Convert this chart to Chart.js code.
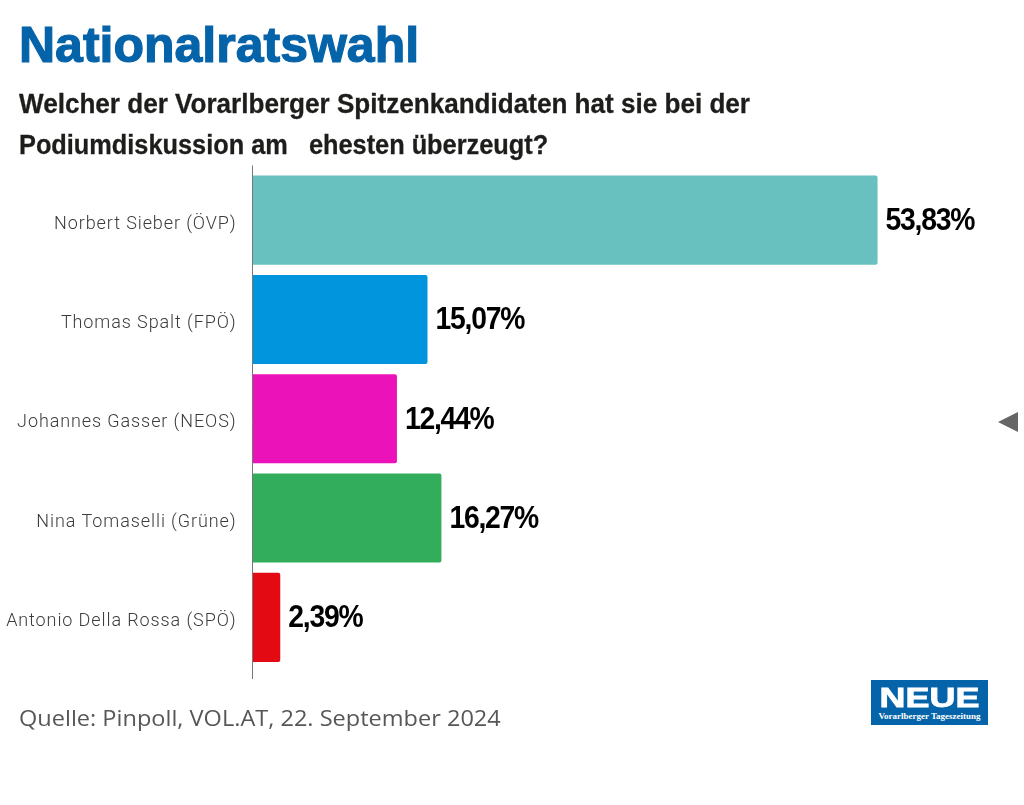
<!DOCTYPE html>
<html lang="de">
<head>
  <meta charset="UTF-8">
  <title>Nationalratswahl</title>
  <script src="https://cdn.jsdelivr.net/npm/chart.js"></script>
  <style>
    html, body { margin: 0; padding: 0; background: #fff; overflow: hidden; }
    #page { position: relative; width: 1024px; height: 805px; }
    #chart { position: absolute; left: 0; top: 0; }
    .txt { position: absolute; white-space: pre; transform-origin: left top; }
    #title { left: 19px; top: 15px; font: bold 50px/60px "Liberation Sans", sans-serif; color: #0563a9; -webkit-text-stroke: 1.2px #0563a9; }
    .sub { left: 19px; font: bold 27px/32px "Liberation Sans", sans-serif; color: #1d1d1b; -webkit-text-stroke: 0.3px #1d1d1b; }
    #source { left: 19px; top: 703px; font: 22px/28px "Open Sans", sans-serif; color: #575756; transform: scaleX(1.07); }
    #arrow { position: absolute; left: 998px; top: 412px; width: 0; height: 0;
      border-top: 10px solid transparent; border-bottom: 10px solid transparent; border-right: 20px solid #666; }
    #logo { position: absolute; left: 871px; top: 680px; width: 117px; height: 45px; background: #0563a9; color: #fff; text-align: center; }
    #logo b { display: block; font: bold 27px/27px "Liberation Sans", sans-serif; margin-top: 5px; transform: scaleX(1.33); -webkit-text-stroke: 0.8px #fff; }
    #logo span { display: block; font: bold 9px/11px "Liberation Serif", serif; margin-top: -1px; }
  </style>
</head>
<body>
<div id="page">
  <canvas id="chart" width="1024" height="805"></canvas>
  <div class="txt" id="title">Nationalratswahl</div>
  <div class="txt sub" style="top:88px; transform:scaleX(0.966)">Welcher der Vorarlberger Spitzenkandidaten hat sie bei der</div>
  <div class="txt sub" style="top:129px; transform:scaleX(0.938)">Podiumdiskussion am   ehesten überzeugt?</div>
  <div class="txt" id="source">Quelle: Pinpoll, VOL.AT, 22. September 2024</div>
  <div id="arrow"></div>
  <div id="logo"><b>NEUE</b><span>Vorarlberger Tageszeitung</span></div>
</div>
<script>
  const candidates = ["Norbert Sieber (ÖVP)", "Thomas Spalt (FPÖ)", "Johannes Gasser (NEOS)", "Nina Tomaselli (Grüne)", "Antonio Della Rossa (SPÖ)"];
  const shares = [53.83, 15.07, 12.44, 16.27, 2.39];
  const barColors = ["#68c1bf", "#0095dd", "#ec12ba", "#31ad5c", "#e30a13"];

  // vertical axis line runs a bit past the bars, values sit right of each bar
  const extras = {
    id: "extras",
    beforeDraw(chart) {
      chart.ctx.letterSpacing = "0.9px"; // tick labels are spaced wider in the original
    },
    afterDatasetsDraw(chart) {
      const ctx = chart.ctx;
      const meta = chart.getDatasetMeta(0);
      const x0 = chart.scales.x.getPixelForValue(0);
      ctx.save();
      ctx.strokeStyle = "#777";
      ctx.lineWidth = 1;
      ctx.beginPath();
      ctx.moveTo(x0, chart.chartArea.top - 5);
      ctx.lineTo(x0, chart.chartArea.bottom + 12);
      ctx.stroke();
      ctx.fillStyle = "#000";
      ctx.font = 'bold 32px "Liberation Sans", sans-serif';
      ctx.letterSpacing = "-1.4px";
      ctx.textBaseline = "middle";
      meta.data.forEach((bar, i) => {
        ctx.save();
        ctx.translate(bar.x + 8, bar.y + 1);
        ctx.scale(0.885, 1);
        ctx.fillText(shares[i].toFixed(2).replace(".", ",") + "%", 0, 0);
        ctx.restore();
      });
      ctx.restore();
    }
  };

  new Chart(document.getElementById("chart"), {
    type: "bar",
    data: {
      labels: candidates,
      datasets: [{
        data: shares,
        backgroundColor: barColors,
        borderRadius: 2,
        borderSkipped: "left",
        barPercentage: 0.897,
        categoryPercentage: 1
      }]
    },
    options: {
      indexAxis: "y",
      responsive: false,
      animation: false,
      layout: { padding: { top: 170.5, bottom: 138, left: 0, right: 74.8 } },
      plugins: { legend: { display: false }, tooltip: { enabled: false } },
      scales: {
        x: { display: false, min: 0, max: 60 },
        y: {
          afterFit(scale) { scale.width = 252.5; },
          grid: { display: false },
          border: { display: false },
          ticks: { color: "#3c3c3b", padding: 8, labelOffset: 4, font: { family: "Roboto", weight: 300, size: 18 } }
        }
      }
    },
    plugins: [extras]
  });
</script>
</body>
</html>
